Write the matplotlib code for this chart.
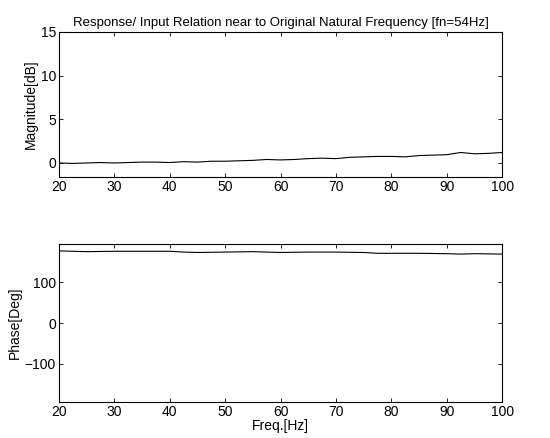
import matplotlib
matplotlib.use('Agg')
from matplotlib import pyplot as plt

plt.rcParams['font.family'] = ['Liberation Sans', 'DejaVu Sans']
plt.rcParams['font.size'] = 10

# Magnitude response
freq_mag = [20, 22.5, 25, 27.5, 30, 32.5, 35, 37.5, 40, 42.5, 45, 47.5, 50,
            52.5, 55, 57.5, 60, 62.5, 65, 67.5, 70, 72.5, 75, 77.5, 80, 82.5,
            85, 87.5, 90, 92.5, 95, 97.5, 100]
magnitude = [0.0, -0.05, 0.0, 0.05, 0.0, 0.05, 0.1, 0.1, 0.05, 0.15, 0.1, 0.2,
             0.2, 0.25, 0.3, 0.4, 0.35, 0.4, 0.5, 0.55, 0.5, 0.65, 0.7, 0.75,
             0.75, 0.7, 0.85, 0.9, 0.95, 1.2, 1.05, 1.1, 1.2]

# Phase response
freq_ph = [20, 25, 30, 35, 40, 42.5, 45, 50, 55, 60, 65, 70, 75, 77.5, 80, 85,
           90, 92.5, 95, 100]
phase = [178, 176, 177, 177, 177, 175, 174, 175, 176, 174, 175, 175, 174, 172,
         172, 172, 171, 170, 171, 170]

fig = plt.figure(figsize=(5.5, 4.38), dpi=100)
ax1 = fig.add_axes([0.107, 0.596, 0.806, 0.331])
ax2 = fig.add_axes([0.107, 0.082, 0.806, 0.361])

ax1.plot(freq_mag, magnitude, color='black', linewidth=0.8)
ax1.set_xlim(20, 100)
ax1.set_ylim(-1.6, 15)
ax1.set_yticks([0, 5, 10, 15])
ax1.set_xticks(range(20, 101, 10))
ax1.set_ylabel('Magnitude[dB]', fontsize=10, labelpad=2)
ax1.set_title('Response/ Input Relation near to Original Natural Frequency [fn=54Hz]',
              fontsize=9.5, pad=4)

ax2.plot(freq_ph, phase, color='black', linewidth=0.8)
ax2.set_xlim(20, 100)
ax2.set_ylim(-195, 195)
ax2.set_yticks([-100, 0, 100])
ax2.set_xticks(range(20, 101, 10))
ax2.set_ylabel('Phase[Deg]', fontsize=10, labelpad=2)
ax2.set_xlabel('Freq.[Hz]', fontsize=10, labelpad=0)

for ax in (ax1, ax2):
    ax.tick_params(direction='in', top=True, right=True, length=3, width=0.6,
                   labelsize=10, pad=2)
    for s in ax.spines.values():
        s.set_linewidth(0.8)

plt.savefig('out.png', dpi=100)
